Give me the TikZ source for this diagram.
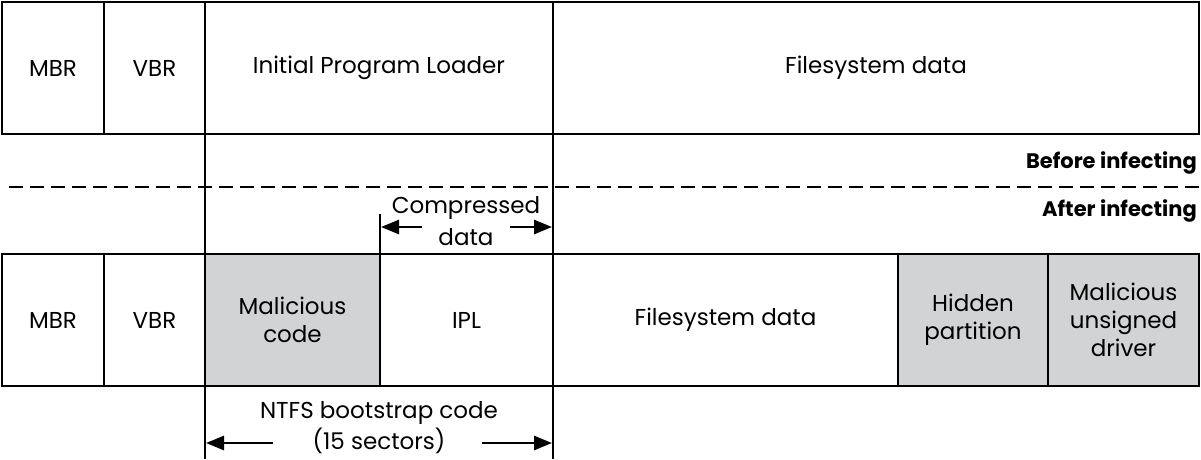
\documentclass[tikz,border=0pt]{standalone}
\usepackage{fontspec}
\setmainfont{Poppins}
\usetikzlibrary{arrows.meta}
\definecolor{shade}{HTML}{D1D3D4}
\tikzset{
  cell/.style={draw, line width=2.7pt, anchor=north west, inner sep=0pt, outer sep=0pt,
    align=center, font=\fontsize{23}{28}\selectfont},
  shaded/.style={fill=shade},
  conn/.style={line width=2.7pt},
  dimarrow/.style={line width=2.7pt, -{Triangle[length=18pt,width=14pt]}},
  lbl/.style={inner sep=0pt, align=center, font=\fontsize{23}{28}\selectfont},
  side/.style={inner sep=0pt, anchor=east, font=\bfseries\fontsize{21}{24}\selectfont}
}
\begin{document}
\begin{tikzpicture}[x=1pt,y=-1pt]
\useasboundingbox (0,0) rectangle (1201,459);
% top row
\node[cell, minimum width=102pt, minimum height=132pt] (tmbr) at (2,2) {MBR};
\node[cell, minimum width=101pt, minimum height=132pt] (tvbr) at (104,2) {VBR};
\node[cell, minimum width=348pt, minimum height=132pt] (tipl) at (205,2) {Initial Program Loader};
\node[cell, minimum width=646pt, minimum height=132pt] (tfs) at (553,2) {Filesystem data};
% bottom row
\node[cell, minimum width=102pt, minimum height=132pt] (bmbr) at (2,254) {MBR};
\node[cell, minimum width=101pt, minimum height=132pt] (bvbr) at (104,254) {VBR};
\node[cell, shaded, minimum width=175pt, minimum height=132pt] (bmal) at (205,254) {Malicious\\code};
\node[cell, minimum width=173pt, minimum height=132pt] (bipl) at (380,254) {IPL};
\node[cell, minimum width=345pt, minimum height=132pt] (bfs) at (553,254) {Filesystem data};
\node[cell, shaded, minimum width=150pt, minimum height=132pt] (bhid) at (898,254) {Hidden\\partition};
\node[cell, shaded, minimum width=151pt, minimum height=132pt] (bdrv) at (1048,254) {Malicious\\unsigned\\driver};
% vertical guide lines
\draw[conn] (tipl.south west) -- (bmal.north west);
\draw[conn] (tipl.south east) -- (bipl.north east);
\coordinate (ctop) at (380,214);
\draw[conn] (ctop) -- (bmal.north east);
\coordinate (lbot) at (205,459);
\coordinate (rbot) at (553,459);
\draw[conn] (bmal.south west) -- (lbot);
\draw[conn] (bipl.south east) -- (rbot);
% dashed separator
\coordinate (dl) at (9,187);
\coordinate (dr) at (1201,187);
\draw[line width=2.7pt, dash pattern=on 14pt off 7pt] (dl) -- (dr);
\node[side] (before) at (1197,163) {Before infecting};
\node[side] (after) at (1197,211) {After infecting};
% compressed data dimension
\node[lbl] (comp) at (466,208) {Compressed};
\node[lbl] (cdata) at (466,237) {data};
\coordinate (ca1) at (422,227);
\coordinate (ca2) at (510,227);
\coordinate (cl) at (381,227);
\coordinate (cr) at (552,227);
\draw[dimarrow] (ca1) -- (cl);
\draw[dimarrow] (ca2) -- (cr);
% ntfs dimension
\node[lbl] (ntfs) at (379,413) {NTFS bootstrap code};
\node[lbl] (sect) at (379,441) {(15 sectors)};
\coordinate (na1) at (273,443);
\coordinate (na2) at (482,443);
\coordinate (nl) at (206,443);
\coordinate (nr) at (552,443);
\draw[dimarrow] (na1) -- (nl);
\draw[dimarrow] (na2) -- (nr);
\end{tikzpicture}
\end{document}
